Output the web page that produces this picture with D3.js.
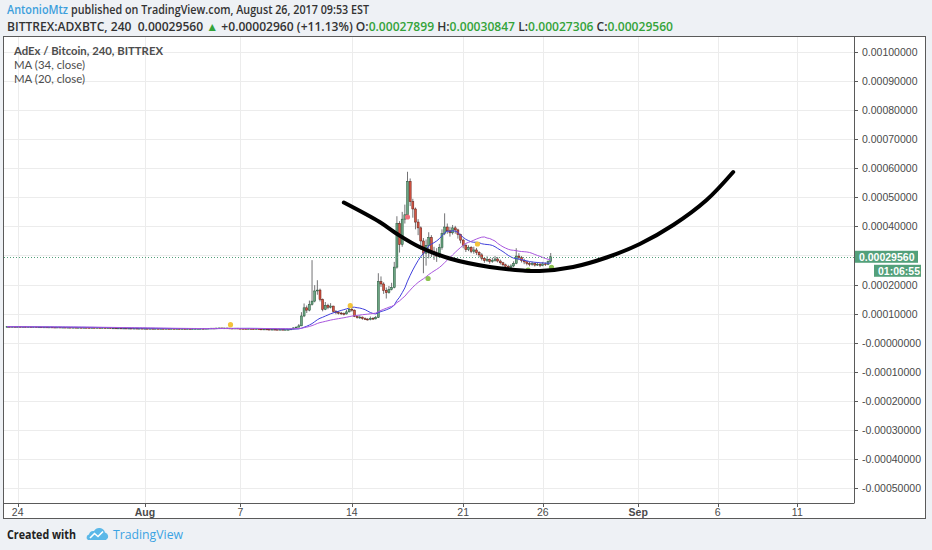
<!DOCTYPE html>
<html>
<head>
<meta charset="utf-8">
<script src="https://cdn.jsdelivr.net/npm/d3@7"></script>
<style>
  body { margin: 0; background: #eef1f5; }
  svg { display: block; font-family: "Open Sans", sans-serif; }
  text { white-space: pre; }
</style>
</head>
<body>
<svg id="chart" width="932" height="550"></svg>
<script>
// prices are in satoshi (1e-8 BTC), 4h bars starting Jul 23 08:00 UTC
const SAT = 1e-8;
const firstBar = new Date(Date.UTC(2017, 6, 23, 8));
const firstOpen = 5500;

const closes = [
  5520, 5480, 5510, 5460,
  5490, 5450, 5470, 5420, 5440, 5400,
  5430, 5380, 5410, 5360, 5390, 5340,
  5370, 5330, 5300, 5340, 5280, 5310,
  5260, 5290, 5240, 5270, 5220, 5250,
  5200, 5230, 5180, 5150, 5190, 5120,
  5160, 5100, 5130, 5060, 5090, 5020,
  5050, 4990, 5030, 4960, 5000, 4940,
  4980, 4920, 4960, 4900, 4940, 4880,
  4910, 4870, 4900, 4850, 4880, 4830,
  4860, 4820, 4850, 4800, 4840, 4790,
  4820, 4780, 4810, 4760, 4800, 4750,
  4790, 4820, 4860, 4900, 4870, 4930,
  4960, 5000, 4970, 5040, 5080, 5030,
  5060, 5020, 4980, 4950, 4990, 4920,
  4880, 4840, 4800, 4830, 4760, 4720,
  4750, 4690, 4650, 4680, 4620, 4590,
  4610, 4570, 4540, 4580, 4520, 4550,
  4560, 4700, 5100, 5350, 5800, 9200,        // Aug 10
  12000, 11200, 13200, 14300, 17800, 18100,
  14900, 11500, 12800, 12200, 12600, 10800,
  10400, 10200, 10000, 9900, 10600, 11500,
  11200, 9000, 8600, 8800, 8300, 8100,        // Aug 14
  7900, 8400, 8200, 8700, 21000, 20200,
  18000, 17200, 18300, 19000, 26000, 41000,
  33800, 42500, 44000, 55500, 48500, 46000,   // Aug 17
  41500, 39500, 35000, 30800, 33500, 36200,
  31500, 30500, 29800, 32800, 37500, 39800,
  38500, 37800, 39500, 38800, 37200, 35300,   // Aug 20
  33500, 32000, 32800, 31400, 31900, 31000,
  30200, 29000, 28200, 28600, 27900, 28300,
  28800, 28100, 27500, 26800, 26300, 25900,
  26400, 27300, 29800, 29300, 28200, 27800,   // Aug 24
  27200, 26900, 27200, 26700, 27000, 26600,
  27100, 26900, 27899, 29560
];

const highs = [
  5580, 5550, 5560, 5530,
  5540, 5510, 5520, 5490, 5490, 5460,
  5480, 5440, 5460, 5420, 5430, 5400,
  5420, 5390, 5360, 5380, 5350, 5350,
  5320, 5340, 5300, 5310, 5280, 5290,
  5260, 5270, 5240, 5220, 5230, 5200,
  5200, 5170, 5170, 5140, 5130, 5100,
  5090, 5060, 5070, 5040, 5040, 5010,
  5020, 4990, 4990, 4970, 4970, 4950,
  4950, 4930, 4940, 4910, 4920, 4890,
  4900, 4880, 4890, 4860, 4870, 4850,
  4860, 4840, 4840, 4820, 4840, 4810,
  4830, 4870, 4900, 4950, 4920, 4980,
  5010, 5060, 5020, 5090, 5130, 5100,
  5100, 5080, 5040, 5000, 5040, 5000,
  4940, 4900, 4860, 4870, 4840, 4780,
  4800, 4760, 4710, 4720, 4690, 4640,
  4660, 4630, 4590, 4620, 4580, 4600,
  4650, 4780, 5250, 5600, 6400, 10500,
  13500, 12800, 14500, 28400, 19800, 21500,
  18600, 15200, 14000, 13400, 13600, 12700,
  11200, 10900, 10600, 10400, 11300, 12200,
  12800, 11400, 9300, 9400, 9000, 8700,
  8500, 9000, 8800, 9200, 23900, 22800,
  20800, 19000, 19500, 20600, 27800, 43500,
  41800, 45000, 47500, 58800, 56500, 49500,
  46500, 42500, 40000, 36000, 35500, 38000,
  37000, 33000, 32500, 34000, 39000, 44500,
  41000, 39800, 40500, 40200, 39200, 37500,
  35800, 34000, 33500, 33200, 33000, 32600,
  31500, 30800, 29500, 29700, 29000, 29200,
  29800, 29500, 28600, 27800, 27200, 26800,
  27000, 28000, 32500, 30800, 29800, 28900,
  28200, 27800, 27900, 27600, 27700, 27400,
  27800, 27600, 28300, 30847
];

const lows = [
  5460, 5430, 5450, 5410,
  5430, 5400, 5410, 5380, 5390, 5350,
  5370, 5330, 5350, 5310, 5330, 5290,
  5310, 5280, 5250, 5270, 5230, 5250,
  5210, 5230, 5190, 5210, 5170, 5190,
  5150, 5170, 5130, 5100, 5120, 5070,
  5090, 5050, 5070, 5010, 5030, 4970,
  4990, 4940, 4970, 4910, 4940, 4890,
  4910, 4870, 4900, 4850, 4880, 4830,
  4850, 4820, 4840, 4800, 4820, 4780,
  4800, 4770, 4790, 4750, 4780, 4740,
  4760, 4730, 4750, 4710, 4740, 4700,
  4730, 4760, 4800, 4840, 4830, 4850,
  4900, 4940, 4920, 4960, 5020, 4980,
  5000, 4970, 4930, 4900, 4920, 4870,
  4830, 4790, 4750, 4770, 4710, 4670,
  4690, 4640, 4600, 4620, 4570, 4540,
  4560, 4520, 4490, 4510, 4470, 4490,
  4480, 4520, 4650, 5000, 5300, 5700,
  8800, 10200, 10800, 12800, 13900, 16500,
  14200, 10800, 11200, 11500, 11800, 10300,
  9800, 9700, 9500, 9400, 9700, 10400,
  10700, 8800, 8300, 8200, 7900, 7800,
  7600, 7700, 7800, 8000, 8500, 19200,
  16800, 15200, 16900, 18000, 18700, 25500,
  31000, 33000, 41000, 43500, 47000, 43000,
  39000, 37000, 32000, 23900, 26500, 29000,
  29500, 28500, 27800, 29200, 32000, 37000,
  37500, 36500, 37200, 37500, 35800, 34200,
  32500, 31200, 31500, 30800, 30600, 30200,
  29400, 28300, 27500, 27800, 27200, 27500,
  27900, 27600, 26900, 26200, 25600, 25400,
  25500, 26000, 27000, 28400, 27600, 27000,
  26600, 26300, 26500, 26200, 26400, 26000,
  26300, 26400, 26700, 27306
];

// hand-drawn arc (time, price in satoshi)
const arcTimes = ["2017-08-13T12:00Z", "2017-08-15T18:00Z", "2017-08-16T21:30Z", "2017-08-18T06:15Z",
  "2017-08-20T03:35Z", "2017-08-22T16:05Z", "2017-08-24T18:15Z", "2017-08-25T19:25Z", "2017-08-27T21:50Z",
  "2017-08-30T00:15Z", "2017-09-01T02:25Z", "2017-09-03T04:50Z", "2017-09-05T07:10Z", "2017-09-06T23:15Z"];
const arcValues = [48230, 41520, 37220, 32920, 28960, 26040, 24840, 24670, 26040, 29310, 33950, 40490, 49090, 58720];

// small signal dots
const markerTimes = ["2017-08-06T09:00Z", "2017-08-13T21:40Z", "2017-08-17T12:00Z", "2017-08-18T19:00Z",
  "2017-08-21T21:30Z", "2017-08-25T02:00Z", "2017-08-26T13:10Z"];
const markerValues = [6190, 12730, 43240, 22085, 33950, 25000, 25940];
const markerColors = ["#f3c33b", "#f3c33b", "#ee6f7c", "#8cc152", "#f3c33b", "#8cc152", "#8cc152"];

const yTicks = [0.001, 0.0009, 0.0008, 0.0007, 0.0006, 0.0005, 0.0004, 0.0003, 0.0002, 0.0001, 0,
  -0.0001, -0.0002, -0.0003, -0.0004, -0.0005];
const yTickLabels = ["0.00100000", "0.00090000", "0.00080000", "0.00070000", "0.00060000", "0.00050000",
  "0.00040000", "0.00030000", "0.00020000", "0.00010000", "-0.00000000", "-0.00010000", "-0.00020000",
  "-0.00030000", "-0.00040000", "-0.00050000"];
const xTicks = ["2017-07-24", "2017-08-01", "2017-08-07", "2017-08-14", "2017-08-21", "2017-08-26",
  "2017-09-01", "2017-09-06", "2017-09-11"];
const xTickLabels = ["24", "Aug", "7", "14", "21", "26", "Sep", "6", "11"];

const lastPrice = 0.0002956;
const countdown = "01:06:55";

// ---------- layout ----------
const plot = { left: 4, right: 854, top: 37, bottom: 503 };
const svg = d3.select('#chart');

const x = d3.scaleUtc()
  .domain([new Date(Date.UTC(2017, 6, 23, 3, 20)), new Date(Date.UTC(2017, 8, 14, 13, 30))])
  .range([plot.left, plot.right]);
const y = d3.scaleLinear()
  .domain([-0.0005514, 0.0010516])
  .range([plot.bottom, plot.top]);

const bars = closes.map((c, i) => ({
  t: d3.utcHour.offset(firstBar, 4 * i),
  o: (i === 0 ? firstOpen : closes[i - 1]) * SAT,
  h: highs[i] * SAT,
  l: lows[i] * SAT,
  c: c * SAT
}));

function movingAverage(values, n) {
  return values.map((v, i) => d3.mean(values.slice(Math.max(0, i - n + 1), i + 1)));
}
const ma34 = movingAverage(bars.map(d => d.c), 34);
const ma20 = movingAverage(bars.map(d => d.c), 20);

// chart frame
svg.append('rect')
  .attr('x', 3.5).attr('y', 36.5).attr('width', 922).attr('height', 482)
  .attr('fill', '#fff').attr('stroke', '#5a5a5a');

svg.append('clipPath').attr('id', 'clip')
  .append('rect')
  .attr('x', plot.left).attr('y', plot.top)
  .attr('width', plot.right - plot.left).attr('height', plot.bottom - plot.top);

// grid
const grid = svg.append('g').attr('stroke', '#ececec').attr('stroke-width', 1);
grid.selectAll('line.h').data(yTicks).enter().append('line')
  .attr('x1', plot.left).attr('x2', plot.right)
  .attr('y1', d => Math.round(y(d)) + 0.5).attr('y2', d => Math.round(y(d)) + 0.5);
grid.selectAll('line.v').data(xTicks).enter().append('line')
  .attr('x1', d => Math.round(x(new Date(d))) + 0.5).attr('x2', d => Math.round(x(new Date(d))) + 0.5)
  .attr('y1', plot.top).attr('y2', plot.bottom);

const g = svg.append('g').attr('clip-path', 'url(#clip)');

// candles
const candle = g.append('g');
candle.selectAll('line').data(bars).enter().append('line')
  .attr('x1', d => x(d.t)).attr('x2', d => x(d.t))
  .attr('y1', d => y(Math.max(d.h, d.o, d.c))).attr('y2', d => y(Math.min(d.l, d.o, d.c)))
  .attr('stroke', '#737375').attr('stroke-width', 1);
candle.selectAll('rect').data(bars).enter().append('rect')
  .attr('x', d => x(d.t) - 1)
  .attr('width', 2)
  .attr('y', d => y(Math.max(d.o, d.c)))
  .attr('height', d => Math.max(0.8, y(Math.min(d.o, d.c)) - y(Math.max(d.o, d.c))))
  .attr('fill', d => d.c >= d.o ? '#6ba583' : '#d75442')
  .attr('stroke', d => d.c >= d.o ? '#225437' : '#5b1a13')
  .attr('stroke-width', 0.5);

// moving averages
const maLine = d3.line().x((d, i) => x(bars[i].t)).y(d => y(d));
g.append('path').datum(ma20).attr('d', maLine)
  .attr('fill', 'none').attr('stroke', '#4040dc').attr('stroke-width', 1);
g.append('path').datum(ma34).attr('d', maLine)
  .attr('fill', 'none').attr('stroke', '#a957de').attr('stroke-width', 1);

// signal dots
g.selectAll('circle').data(markerTimes).enter().append('circle')
  .attr('cx', d => x(new Date(d)))
  .attr('cy', (d, i) => y(markerValues[i] * SAT))
  .attr('r', 2.6)
  .attr('fill', (d, i) => markerColors[i]);

// last price dotted line
const py = y(lastPrice);
g.append('line')
  .attr('x1', plot.left).attr('x2', plot.right)
  .attr('y1', Math.round(py) + 0.5).attr('y2', Math.round(py) + 0.5)
  .attr('stroke', '#53a07a').attr('stroke-dasharray', '1,2');

// arc drawing
g.append('path')
  .datum(arcTimes.map((t, i) => [new Date(t), arcValues[i] * SAT]))
  .attr('d', d3.line().x(d => x(d[0])).y(d => y(d[1])).curve(d3.curveCatmullRom))
  .attr('fill', 'none').attr('stroke', '#000').attr('stroke-width', 4).attr('stroke-linecap', 'round');

// plot borders
svg.append('line').attr('x1', plot.right + 0.5).attr('x2', plot.right + 0.5)
  .attr('y1', plot.top).attr('y2', plot.bottom).attr('stroke', '#5a5a5a');
svg.append('line').attr('x1', plot.left).attr('x2', plot.right + 0.5)
  .attr('y1', plot.bottom + 0.5).attr('y2', plot.bottom + 0.5).attr('stroke', '#5a5a5a');

// right axis (labels under the price label are hidden, as in the original)
const yAxis = svg.append('g').attr('font-family', '"Liberation Sans", Arial, sans-serif')
  .attr('font-size', 10.5).attr('fill', '#4a4a4a');
yAxis.selectAll('line').data(yTicks).enter().append('line')
  .attr('x1', plot.right).attr('x2', plot.right + 4)
  .attr('y1', d => Math.round(y(d)) + 0.5).attr('y2', d => Math.round(y(d)) + 0.5)
  .attr('stroke', '#5a5a5a');
yAxis.selectAll('text').data(yTicks.filter(d => Math.abs(y(d) - py) > 12)).enter().append('text')
  .attr('x', 862).attr('y', d => y(d) + 4)
  .text(d => yTickLabels[yTicks.indexOf(d)]);

// bottom axis
const xAxis = svg.append('g').attr('font-family', '"Liberation Sans", Arial, sans-serif')
  .attr('font-size', 10.5).attr('fill', '#4a4a4a');
xAxis.selectAll('line').data(xTicks).enter().append('line')
  .attr('x1', d => Math.round(x(new Date(d))) + 0.5).attr('x2', d => Math.round(x(new Date(d))) + 0.5)
  .attr('y1', plot.bottom).attr('y2', plot.bottom + 4)
  .attr('stroke', '#5a5a5a');
xAxis.selectAll('text').data(xTicks).enter().append('text')
  .attr('x', d => x(new Date(d))).attr('y', 516)
  .attr('text-anchor', 'middle')
  .attr('font-weight', (d, i) => isNaN(+xTickLabels[i]) ? 'bold' : 'normal')
  .text((d, i) => xTickLabels[i]);

// last price label
svg.append('rect').attr('x', 855).attr('y', py - 6).attr('width', 63).attr('height', 12).attr('fill', '#53a07a');
svg.append('text').attr('x', 859).attr('y', py + 4)
  .attr('font-family', '"Liberation Sans", Arial, sans-serif').attr('font-size', 10.5)
  .attr('font-weight', 'bold').attr('fill', '#fff').text(d3.format('.8f')(lastPrice));
svg.append('rect').attr('x', 874).attr('y', py + 8).attr('width', 47).attr('height', 12).attr('fill', '#53a07a');
svg.append('text').attr('x', 878).attr('y', py + 18)
  .attr('font-family', '"Liberation Sans", Arial, sans-serif').attr('font-size', 10.5)
  .attr('font-weight', 'bold').attr('fill', '#fff').text(countdown);

// legend
const legend = svg.append('g').attr('font-family', 'Lato, sans-serif').attr('font-size', 11.5).attr('fill', '#4d4d4d');
legend.append('text').attr('x', 14).attr('y', 55).attr('font-weight', 'bold')
  .attr('textLength', 149).attr('lengthAdjust', 'spacingAndGlyphs')
  .text('AdEx / Bitcoin, 240, BITTREX');
legend.append('text').attr('x', 14).attr('y', 69)
  .attr('textLength', 71).attr('lengthAdjust', 'spacingAndGlyphs').text('MA (34, close)');
legend.append('text').attr('x', 14).attr('y', 83)
  .attr('textLength', 71).attr('lengthAdjust', 'spacingAndGlyphs').text('MA (20, close)');

// header
svg.append('text').attr('x', 7).attr('y', 14).attr('font-size', 12).attr('font-weight', 600)
  .attr('fill', '#3c9fdc').attr('textLength', 61).attr('lengthAdjust', 'spacingAndGlyphs')
  .text('AntonioMtz');
svg.append('text').attr('x', 71).attr('y', 14).attr('font-size', 12).attr('font-weight', 600)
  .attr('fill', '#333').attr('textLength', 298).attr('lengthAdjust', 'spacingAndGlyphs')
  .text('published on TradingView.com, August 26, 2017 09:53 EST');

const up = '#34a33a';
const h2 = svg.append('text').attr('x', 7).attr('y', 31).attr('font-size', 12).attr('font-weight', 600)
  .attr('fill', '#333').attr('textLength', 666).attr('lengthAdjust', 'spacingAndGlyphs');
[
  ['BITTREX:ADXBTC, 240  0.00029560 ', '#333'], ['▲', up], [' +0.00002960 (+11.13%) ', '#333'],
  ['O:', '#333'], ['0.00027899', up], [' H:', '#333'], ['0.00030847', up],
  [' L:', '#333'], ['0.00027306', up], [' C:', '#333'], ['0.00029560', up]
].forEach(([s, c]) => h2.append('tspan').attr('fill', c).text(s));

// footer
svg.append('text').attr('x', 7).attr('y', 539).attr('font-size', 12).attr('font-weight', 'bold')
  .attr('fill', '#222').attr('textLength', 69).attr('lengthAdjust', 'spacingAndGlyphs').text('Created with');
const logo = svg.append('g').attr('transform', 'translate(86,527)');
logo.append('path')
  .attr('d', 'M2,13 H20 A4,4 0 0 0 19,5.5 A6,6 0 0 0 8,4 A4.5,4.5 0 0 0 3,7.5 A3,3 0 0 0 2,13 Z')
  .attr('fill', '#5bb8e8');
logo.append('path').attr('d', 'M4,11 L8.5,6.5 L12,9.5 L17,4.5')
  .attr('fill', 'none').attr('stroke', '#fff').attr('stroke-width', 1.6);
svg.append('text').attr('x', 113).attr('y', 539).attr('font-size', 12)
  .attr('fill', '#3aa3e3').attr('textLength', 70).attr('lengthAdjust', 'spacingAndGlyphs').text('TradingView');
</script>
</body>
</html>
